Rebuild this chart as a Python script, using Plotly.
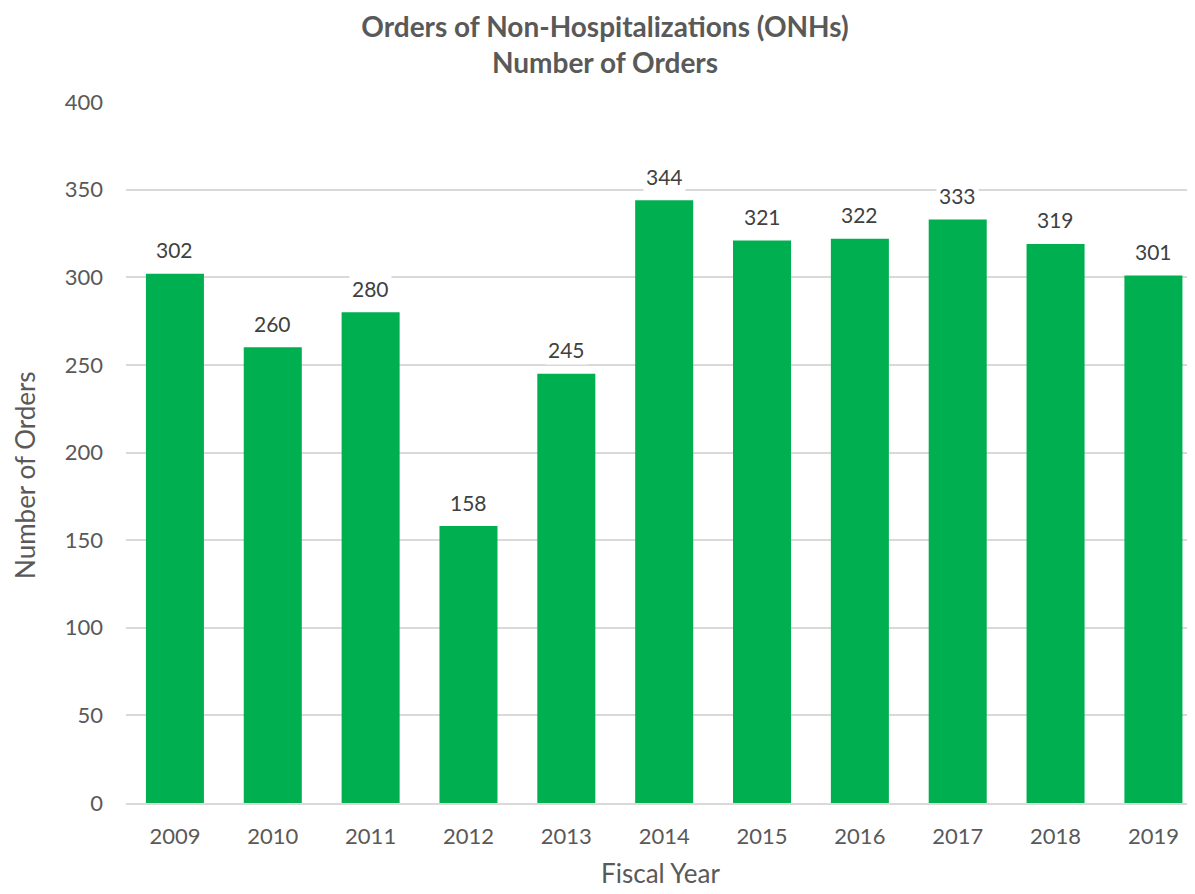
import plotly.graph_objects as go

years = ["2009", "2010", "2011", "2012", "2013", "2014", "2015", "2016", "2017", "2018", "2019"]
orders = [302, 260, 280, 158, 245, 344, 321, 322, 333, 319, 301]
y_ticks = [0, 50, 100, 150, 200, 250, 300, 350, 400]

FONT = "Lato"
BAR = "#00B050"
W, H = 1187, 886  # page adds an 8px body margin

fig = go.Figure(go.Bar(x=years, y=orders, marker=dict(color=BAR, line=dict(width=0)), hoverinfo="skip"))

for i, v in enumerate(orders):
    fig.add_annotation(x=i, y=v, xref="x", yref="y", text=str(v), showarrow=False,
                       yanchor="middle", yshift=24,
                       bgcolor="white", borderpad=2,
                       font=dict(family=FONT, size=21, color="#404040"))

fig.add_annotation(text="Number of Orders", textangle=-90, showarrow=False,
                   xref="paper", yref="paper", x=0, y=0.468, xanchor="center", yanchor="middle",
                   xshift=-101, font=dict(family=FONT, size=26, color="#595959"))

fig.update_layout(
    width=W, height=H,
    margin=dict(l=118, r=0, t=94, b=91),
    paper_bgcolor="white", plot_bgcolor="white",
    bargap=0.407,
    showlegend=False,
    title=dict(text="<b>Orders of Non-Hospitalizations (ONHs)<br>Number of Orders</b>",
               x=597/W, xref="container", xanchor="center",
               y=1 - 29/H, yref="container", yanchor="middle",
               font=dict(family=FONT, size=28, color="#595959")),
    xaxis=dict(type="category", range=[-0.5, 10.425], showgrid=False, showline=True,
               linecolor="#D9D9D9", linewidth=2,
               ticks="", tickfont=dict(family=FONT, size=22, color="#595959"), ticklabelstandoff=13,
               title=dict(text="Fiscal Year", font=dict(family=FONT, size=26, color="#595959"), standoff=16)),
    yaxis=dict(range=[0, 400], tickvals=y_ticks, showgrid=True, gridcolor="#D9D9D9", gridwidth=2,
               zeroline=False, showline=False, ticks="",
               tickfont=dict(family=FONT, size=22, color="#595959"), ticklabelstandoff=22),
)

fig.write_html("out.html")
